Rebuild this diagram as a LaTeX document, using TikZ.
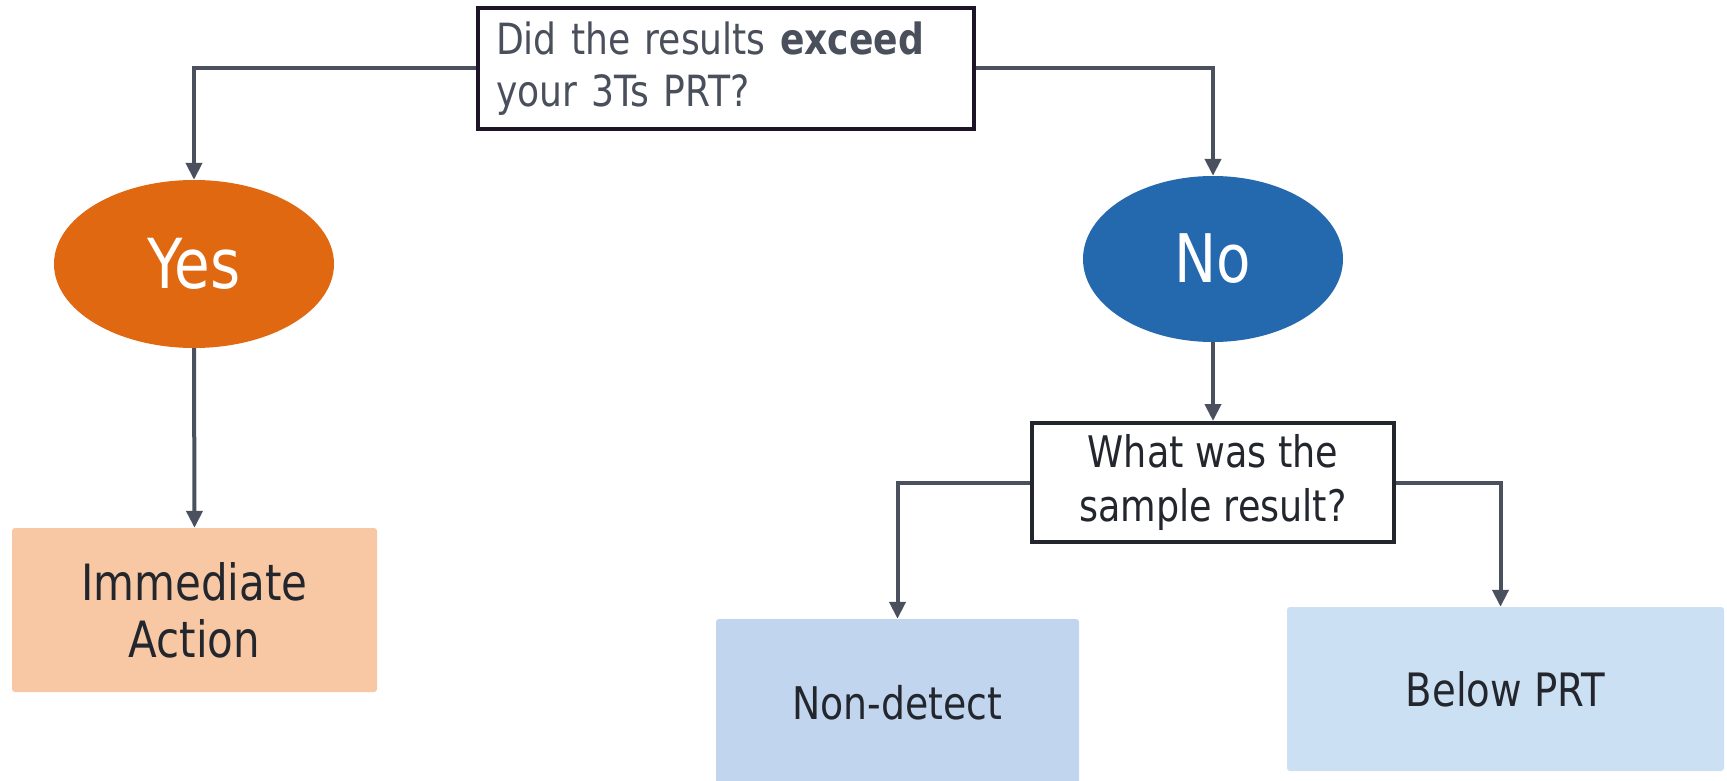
\documentclass[tikz,border=0pt]{standalone}
\usepackage{fontspec}
\setmainfont[FakeStretch=0.84]{DejaVu Sans}
\usetikzlibrary{shapes.geometric,arrows.meta}
\definecolor{arrowc}{HTML}{4B505F}
\definecolor{orangec}{HTML}{E06810}
\definecolor{bluec}{HTML}{2468AE}
\definecolor{peach}{HTML}{F8C8A4}
\definecolor{lblue}{HTML}{C2D5EF}
\definecolor{llblue}{HTML}{CCE0F4}
\definecolor{qtext}{HTML}{4A4F5C}
\definecolor{dtext}{HTML}{23262D}
\definecolor{qborder}{HTML}{1E1428}
\tikzset{
  arr/.style={draw=arrowc, line width=4pt, -{Triangle[length=17pt,width=16pt]}},
  oval/.style={ellipse, inner sep=0pt, text=white},
  resbox/.style={rectangle, rounded corners=3pt, inner sep=0pt, text=dtext, align=center},
}
\begin{document}
\begin{tikzpicture}[x=1pt,y=-1pt]
\useasboundingbox (0,0) rectangle (1727,781);
\fill[white] (0,0) rectangle (1727,781);

\node[rectangle, draw=qborder, line width=3.5pt, fill=white, minimum height=121pt,
      text width=460pt, inner xsep=18pt, inner ysep=0pt, align=left, text=qtext,
      font=\fontsize{43}{52}\selectfont] (q) at (726,68.5)
  {Did the results \textbf{exceed}\\your 3Ts PRT?};

\node[oval, fill=orangec, minimum width=280pt, minimum height=168pt,
      font=\fontsize{69}{70}\selectfont] (yes) at (194,264) {Yes};
\node[oval, fill=bluec, minimum width=260pt, minimum height=166pt,
      font=\fontsize{67}{70}\selectfont] (no) at (1213,259) {No};

\node[resbox, fill=peach, minimum width=365pt, minimum height=164pt,
      font=\fontsize{50}{57}\selectfont] (imm) at (194.5,610) {Immediate\\Action};

\node[rectangle, draw=dtext, line width=4pt, fill=white, minimum width=362pt, minimum height=119pt,
      inner sep=0pt, align=center, text=dtext, font=\fontsize{43.5}{54}\selectfont] (what) at (1213,482.5)
  {What was the\\sample result?};

\node[resbox, fill=lblue, minimum width=363pt, minimum height=168pt,
      font=\fontsize{45}{50}\selectfont] (nd) at (897.5,703) {Non-detect};
\node[resbox, fill=llblue, minimum width=437pt, minimum height=164pt,
      font=\fontsize{46}{50}\selectfont] (bp) at (1505.5,689) {Below PRT};

\draw[arr] (q.west) -| (yes.north);
\draw[arr] (q.east) -| (no.north);
\draw[arr] (yes.south) -- (imm.north);
\draw[arr] (no.south) -- (what.north);
\draw[arr] (what.west) -| (nd.north);
\draw[arr] (what.east) -| ([xshift=-5pt]bp.north);
\end{tikzpicture}
\end{document}
